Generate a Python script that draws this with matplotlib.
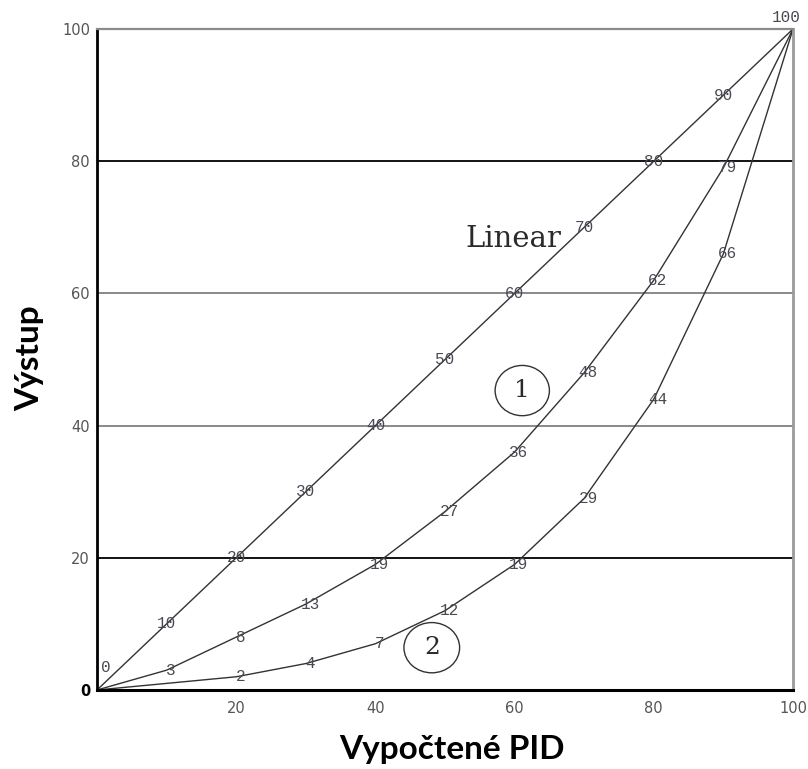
import matplotlib
matplotlib.use('Agg')

from matplotlib import pyplot as plt
from matplotlib.patches import Ellipse

# data
pid = [0, 10, 20, 30, 40, 50, 60, 70, 80, 90, 100]
linear = [0, 10, 20, 30, 40, 50, 60, 70, 80, 90, 100]
curve1 = [0, 3, 8, 13, 19, 27, 36, 48, 62, 79, 100]
curve2 = [0, 1, 2, 4, 7, 12, 19, 29, 44, 66, 100]

xticks = [20, 40, 60, 80, 100]
yticks = [0, 20, 40, 60, 80, 100]

fig = plt.figure(figsize=(8.08, 7.69), dpi=100)
ax = fig.add_axes([97 / 808, 79 / 769, 696 / 808, 661 / 769])

ax.set_xlim(0, 100)
ax.set_ylim(0, 100)

# horizontal grid lines, 20 and 80 darker than 40 and 60
for y in yticks[1:-1]:
    col = 'black' if y in (20, 80) else '#808080'
    ax.axhline(y, color=col, lw=1.3, zorder=1)

line_col = '#333333'
ax.plot(pid, linear, color=line_col, lw=1.0)
ax.plot(pid, curve1, color=line_col, lw=1.0)
ax.plot(pid, curve2, color=line_col, lw=1.0)

lbl_col = '#4a4a55'
lbl_font = dict(family='Liberation Mono', fontsize=11.5, color=lbl_col,
                ha='center', va='center')

# value labels along the curves
for x, y in zip(pid[1:-1], linear[1:-1]):
    ax.annotate(str(y), (x, y), **lbl_font)
for x, y in zip(pid[1:-1], curve1[1:-1]):
    ax.annotate(str(y), (x, y), xytext=(3, 0), textcoords='offset points', **lbl_font)
for x, y in zip(pid[2:-1], curve2[2:-1]):
    ax.annotate(str(y), (x, y), xytext=(3, 0), textcoords='offset points', **lbl_font)
ax.annotate(str(linear[0]), (pid[0], linear[0]), xytext=(6.5, 16.5),
            textcoords='offset points', **lbl_font)
ax.annotate('100', (100, 100), xytext=(-5, 8), textcoords='offset points',
            annotation_clip=False, **lbl_font)

ax.text(59.8, 68.2, 'Linear', family='DejaVu Serif', fontsize=21, color='#2a2a2a',
        ha='center', va='center')

# circled curve numbers
ax.add_patch(Ellipse((61.1, 45.3), 7.8, 7.6, fill=False, ec='#333333', lw=1.0))
ax.text(61.1, 45.3, '1', family='DejaVu Serif', fontsize=18, color='#2a2a2a',
        ha='center', va='center')
ax.add_patch(Ellipse((48.1, 6.4), 8.0, 7.6, fill=False, ec='#333333', lw=1.0))
ax.text(48.1, 6.4, '2', family='DejaVu Serif', fontsize=18, color='#2a2a2a',
        ha='center', va='center')

# frame
ax.spines['left'].set_color('black')
ax.spines['left'].set_linewidth(2)
ax.spines['bottom'].set_color('black')
ax.spines['bottom'].set_linewidth(2.2)
ax.spines['top'].set_color('#8a8a8a')
ax.spines['top'].set_linewidth(1.6)
ax.spines['right'].set_color('#9a9a9a')
ax.spines['right'].set_linewidth(2)

ax.set_xticks(xticks)
ax.set_yticks(yticks)
ax.set_yticklabels(['0'] + [str(v) for v in yticks[1:]])
ax.tick_params(length=0, labelsize=10.5, labelcolor='#555555')
ax.tick_params(axis='x', pad=8)
ax.tick_params(axis='y', pad=5)
ylab0 = ax.get_yticklabels()[0]
ylab0.set_color('black')
ylab0.set_fontweight('bold')

fig.text(452 / 808, 1 - 750 / 769, 'Vypočtené PID', family='Lato', fontweight='bold',
         fontsize=24, ha='center', va='center')
fig.text(30 / 808, 1 - 358 / 769, 'Výstup', family='Lato', fontweight='bold',
         fontsize=24, ha='center', va='center', rotation=90)

plt.savefig('out.png', dpi=100)
